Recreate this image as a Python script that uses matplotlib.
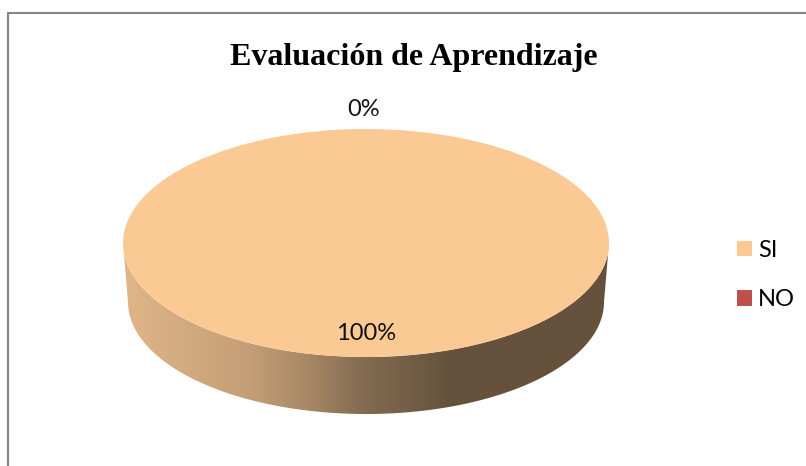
import numpy as np
import matplotlib
matplotlib.use("Agg")
import matplotlib.pyplot as plt
from matplotlib.colors import LinearSegmentedColormap
from matplotlib.patches import Patch, Polygon

title = "Evaluación de Aprendizaje"
categories = ["SI", "NO"]
values = [100, 0]
value_labels = ["100%", "0%"]
colors = ["#FBC994", "#C0504D"]

W, H = 806, 466
fig = plt.figure(figsize=(W / 100, H / 100), dpi=100, facecolor="white")

# frame in pixel coordinates
bg = fig.add_axes([0, 0, 1, 1])
bg.set_xlim(0, W)
bg.set_ylim(H, 0)
bg.axis("off")
bg.plot([8, 8, W + 2], [H + 2, 13, 13], color="#868686", lw=1.5, solid_joinstyle="miter")

# pie axes: the unit circle maps to the top ellipse of the 3D pie
cx, cy, a, b = 366, 243, 243, 114
bot_a, bot_b, bot_cy = 238, 112, 302
d_px = bot_cy + bot_b - (cy + b)
d_u = d_px / b
ax = fig.add_axes([(cx - a) / W, 1 - (cy + b + d_px) / H, 2 * a / W, (2 * b + d_px) / H])
ax.pie(values, colors=colors, radius=1, startangle=90, counterclock=False, center=(0, 0), frame=False)
for w in ax.patches:
    w.set_zorder(3)
ax.axis("off")

t = np.linspace(np.pi, 2 * np.pi, 400)
top_edge = np.column_stack([np.cos(t), np.sin(t)])
bot_edge = np.column_stack([np.cos(t[::-1]) * bot_a / a,
                            (np.sin(t[::-1]) * bot_b + cy - bot_cy) / b])
wall = np.vstack([top_edge, bot_edge])
poly = Polygon(wall, closed=True, transform=ax.transData, facecolor="none", edgecolor="none")
ax.add_patch(poly)
cmap = LinearSegmentedColormap.from_list("wall", [
    (0.0, "#E0B688"), (0.26, "#C49E76"), (0.36, "#AD8C68"), (0.5, "#826A50"),
    (0.67, "#66523C"), (1.0, "#66523C")])
ylo = -1 - d_u
im = ax.imshow(np.linspace(0, 1, 512)[None, :], cmap=cmap, extent=(-1, 1, ylo, 0),
               aspect="auto", zorder=2)
im.set_clip_path(poly)
ax.set_xlim(-1, 1)
ax.set_ylim(ylo, 1)
ax.set_aspect("auto")

label_font = ["Lato", "DejaVu Sans"]
bg.set_zorder(5)
bg.text(366, 333, value_labels[0], ha="center", va="center", fontsize=17, family=label_font, color="#111111")
bg.text(364, 109, value_labels[1], ha="center", va="center", fontsize=17, family=label_font, color="#111111")
bg.text(414, 57, title, ha="center", va="center", fontsize=23, family="Liberation Serif", weight="bold", color="black")

handles = [Patch(facecolor=c, edgecolor="none", label=n) for c, n in zip(colors, categories)]
fig.legend(handles=handles, loc="center left", bbox_to_anchor=(737 / W, 1 - 275 / H), frameon=False,
           prop={"family": label_font, "size": 17}, handlelength=0.64, handleheight=0.64,
           handletextpad=0.26, labelspacing=1.2, borderpad=0, borderaxespad=0)

fig.savefig("out.png", dpi=100, facecolor="white")
